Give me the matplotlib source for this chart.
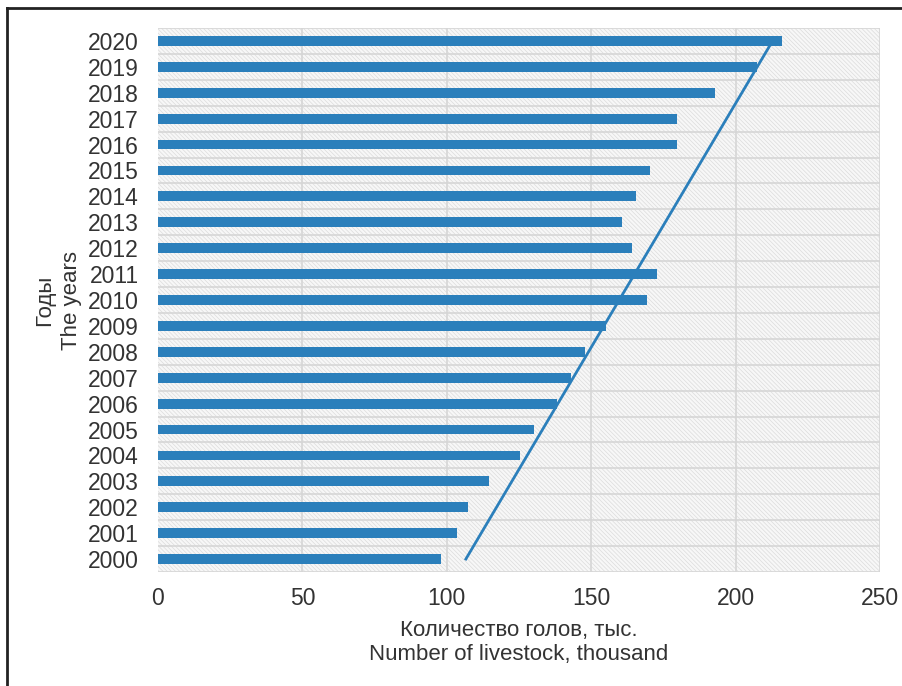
import matplotlib
matplotlib.use('Agg')
import matplotlib.pyplot as plt
from matplotlib.patches import Rectangle
from matplotlib.lines import Line2D

plt.rcParams['font.family'] = ['Liberation Sans', 'DejaVu Sans']
plt.rcParams['hatch.linewidth'] = 0.5

# данные (читаются с картинки)
years = ['2000', '2001', '2002', '2003', '2004', '2005', '2006', '2007', '2008', '2009', '2010',
         '2011', '2012', '2013', '2014', '2015', '2016', '2017', '2018', '2019', '2020']
livestock = [97.9, 103.4, 107.3, 114.6, 125.3, 130.2, 138.3, 142.9, 148.0, 155.1, 169.2,
             172.8, 164.2, 160.7, 165.6, 170.4, 179.7, 179.7, 192.8, 207.5, 216.0]
# линия тренда: начало (2000) и конец (2020)
trend_years = ['2000', '2020']
trend_values = [106.6, 212.8]
x_ticks = [0, 50, 100, 150, 200, 250]

blue = '#2B7FBB'
text_col = '#333333'
grid_col = '#d6d6d6'

fig = plt.figure(figsize=(9.03, 6.86), dpi=100)
ax = fig.add_axes([158 / 903, 1 - 572 / 686, 722 / 903, 544 / 686])

# фон с мелкой диагональной штриховкой
ax.add_patch(Rectangle((0, 0), 1, 1, transform=ax.transAxes, facecolor='#f7f7f7',
                       edgecolor='#dcdcdc', hatch='\\\\\\\\\\\\\\\\', linewidth=0, zorder=0))

pos = list(range(len(years)))
ax.barh(pos, livestock, height=0.38, color=blue, zorder=3)
tpos = [years.index(y) for y in trend_years]
ax.plot(trend_values, tpos, color=blue, linewidth=2, zorder=4)

ax.set_xlim(0, 250)
ax.set_ylim(-0.5, len(years) - 0.5)
ax.set_xticks(x_ticks)
ax.set_yticks(pos)
ax.set_yticklabels(years)

# сетка по границам категорий и вертикальная сетка
for b in range(len(years) + 1):
    ax.axhline(b - 0.5, color=grid_col, linewidth=1.2, zorder=1)
for xt in x_ticks[1:]:
    ax.axvline(xt, color=grid_col, linewidth=1.2, zorder=1)

for s in ax.spines.values():
    s.set_visible(False)

ax.tick_params(axis='both', length=0, labelsize=16.5, colors=text_col)
ax.tick_params(axis='y', pad=14)
ax.tick_params(axis='x', pad=11)

ax.set_xlabel('Количество голов, тыс.\nNumber of livestock, thousand', fontsize=16,
              color=text_col, labelpad=7, linespacing=1.2)
ax.set_ylabel('Годы\nThe years', fontsize=16, color=text_col, labelpad=4, linespacing=1.35)

# рамка рисунка (левая и верхняя линии)
fig.add_artist(Line2D([7 / 903, 7 / 903], [0, 1 - 8 / 686], color='#222222', linewidth=2,
                      transform=fig.transFigure))
fig.add_artist(Line2D([7 / 903, 1], [1 - 8 / 686, 1 - 8 / 686], color='#222222', linewidth=2,
                      transform=fig.transFigure))

fig.savefig('out.png', dpi=100)
